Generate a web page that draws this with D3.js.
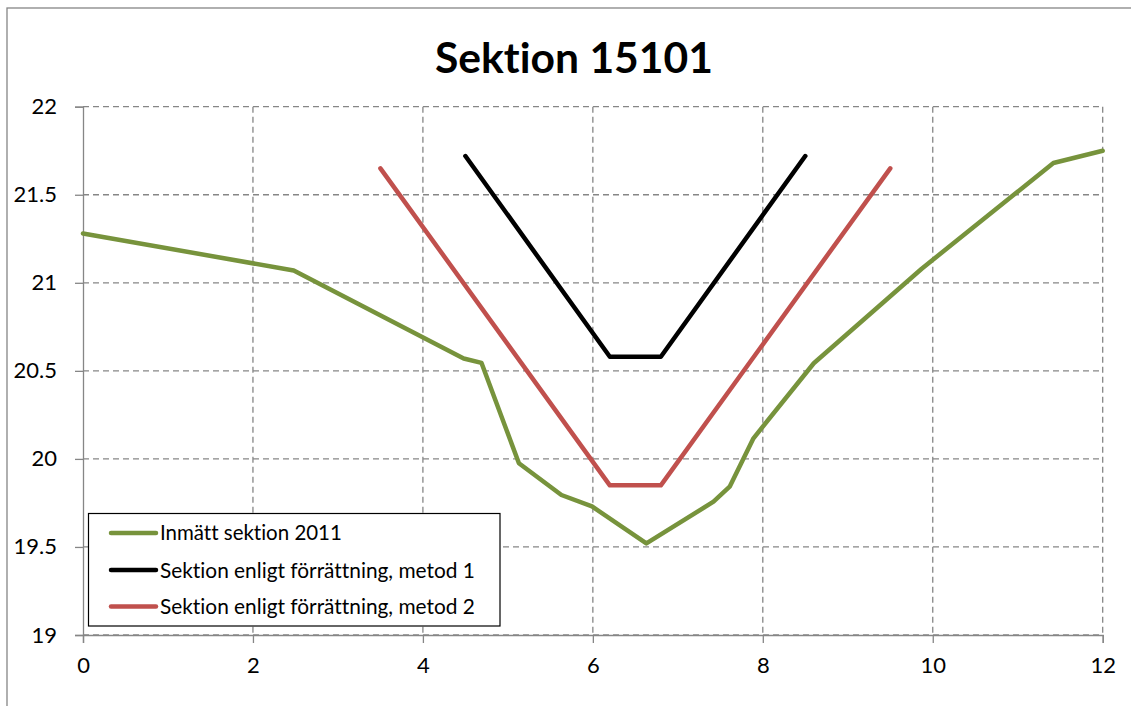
<!DOCTYPE html>
<html>
<head>
<meta charset="utf-8">
<script src="https://cdn.jsdelivr.net/npm/d3@7"></script>
<style>
  html, body { margin: 0; padding: 0; background: #fff; }
  svg { display: block; }
  text { font-family: Lato, "Open Sans", sans-serif; fill: #000;
         font-variant-ligatures: none; font-feature-settings: "liga" 0, "clig" 0; }
</style>
</head>
<body>
<svg id="chart" width="1131" height="706"></svg>
<script>
// Cross-section survey of section 15101: distance (m) vs. elevation (m)
const titleText = "Sektion 15101";

const measuredX = [0, 2.48, 4.48, 4.69, 5.13, 5.63, 5.99, 6.63, 7.42, 7.61, 7.89, 8.6, 9.87, 11.42, 12];
const measuredY = [21.28, 21.07, 20.57, 20.545, 19.975, 19.795, 19.73, 19.52, 19.757, 19.842, 20.117, 20.543, 21.08, 21.68, 21.75];

const method1X = [4.5, 6.2, 6.8, 8.5];
const method1Y = [21.72, 20.58, 20.58, 21.72];

const method2X = [3.5, 6.2, 6.8, 9.5];
const method2Y = [21.65, 19.85, 19.85, 21.65];

const seriesNames = [
  "Inmätt sektion 2011",
  "Sektion enligt förrättning, metod 1",
  "Sektion enligt förrättning, metod 2"
];
const seriesColors = ["#77933C", "#000000", "#C0504D"];

const xTicks = [0, 2, 4, 6, 8, 10, 12];
const yTicks = [19, 19.5, 20, 20.5, 21, 21.5, 22];

const series = [
  { name: seriesNames[0], color: seriesColors[0], pts: measuredX.map((x, i) => [x, measuredY[i]]) },
  { name: seriesNames[1], color: seriesColors[1], pts: method1X.map((x, i) => [x, method1Y[i]]) },
  { name: seriesNames[2], color: seriesColors[2], pts: method2X.map((x, i) => [x, method2Y[i]]) }
];

const svg = d3.select("#chart");
const gridColor = "#868686";

// Outer chart frame
svg.append("rect")
  .attr("x", 7).attr("y", 8).attr("width", 1300).attr("height", 900)
  .attr("fill", "none").attr("stroke", gridColor).attr("stroke-width", 1.3);

const x = d3.scaleLinear().domain([0, 12]).range([83, 1102.7]);
const y = d3.scaleLinear().domain([19, 22]).range([635, 106.7]);

// Fit a text element's font size so it spans a given width
function fitText(sel, width) {
  const node = sel.node();
  const fs = parseFloat(sel.attr("font-size"));
  const w = node.getComputedTextLength();
  sel.attr("font-size", (fs * width / w).toFixed(2));
  return sel;
}

// Title
fitText(svg.append("text")
  .attr("x", 574).attr("y", 73)
  .attr("text-anchor", "middle")
  .attr("font-weight", "bold")
  .attr("font-size", 40)
  .text(titleText), 278);

// Gridlines
const grid = svg.append("g").attr("stroke", gridColor).attr("stroke-width", 1.3)
  .attr("stroke-dasharray", "6,4");
grid.selectAll("line.h").data(yTicks).join("line")
  .attr("x1", x(0)).attr("x2", x(12))
  .attr("y1", d => y(d)).attr("y2", d => y(d));
grid.selectAll("line.v").data(xTicks.slice(1)).join("line")
  .attr("x1", d => x(d)).attr("x2", d => x(d))
  .attr("y1", y(22)).attr("y2", y(19));

// Axes
const yAxis = svg.append("g")
  .attr("transform", `translate(${x(0)},0)`)
  .call(d3.axisLeft(y).tickValues(yTicks).tickSize(8).tickPadding(18)
    .tickFormat(d => String(d)));
const xAxis = svg.append("g")
  .attr("transform", `translate(0,${y(19)})`)
  .call(d3.axisBottom(x).tickValues(xTicks).tickSize(8).tickPadding(14)
    .tickFormat(d => String(d)));
[xAxis, yAxis].forEach(a => {
  a.select(".domain").attr("stroke", gridColor).attr("stroke-width", 1.3);
  a.selectAll(".tick line").attr("stroke", gridColor).attr("stroke-width", 1.3);
  a.selectAll(".tick text").attr("font-family", "Lato, 'Open Sans', sans-serif")
    .attr("font-size", 22).attr("fill", "#000");
});
yAxis.selectAll(".tick text").attr("x", -26);

// Series lines
const line = d3.line().x(d => x(d[0])).y(d => y(d[1]));
svg.append("g").selectAll("path").data(series).join("path")
  .attr("d", d => line(d.pts))
  .attr("fill", "none")
  .attr("stroke", d => d.color)
  .attr("stroke-width", 4.5)
  .attr("stroke-linejoin", "round")
  .attr("stroke-linecap", "round");

// Legend
const legend = svg.append("g");
legend.append("rect")
  .attr("x", 88.5).attr("y", 513.5).attr("width", 411.5).attr("height", 112.5)
  .attr("fill", "#fff").attr("stroke", "#000").attr("stroke-width", 1.2);
const rowY = [533, 570, 606.5];
const textWidths = [182, 315, 315];
series.forEach((s, i) => {
  legend.append("line")
    .attr("x1", 111).attr("x2", 156)
    .attr("y1", rowY[i]).attr("y2", rowY[i])
    .attr("stroke", s.color).attr("stroke-width", 4.5)
    .attr("stroke-linecap", "round");
  fitText(legend.append("text")
    .attr("x", 160).attr("y", rowY[i])
    .attr("dy", "0.36em")
    .attr("font-size", 20)
    .text(s.name), textWidths[i]);
});
</script>
</body>
</html>
